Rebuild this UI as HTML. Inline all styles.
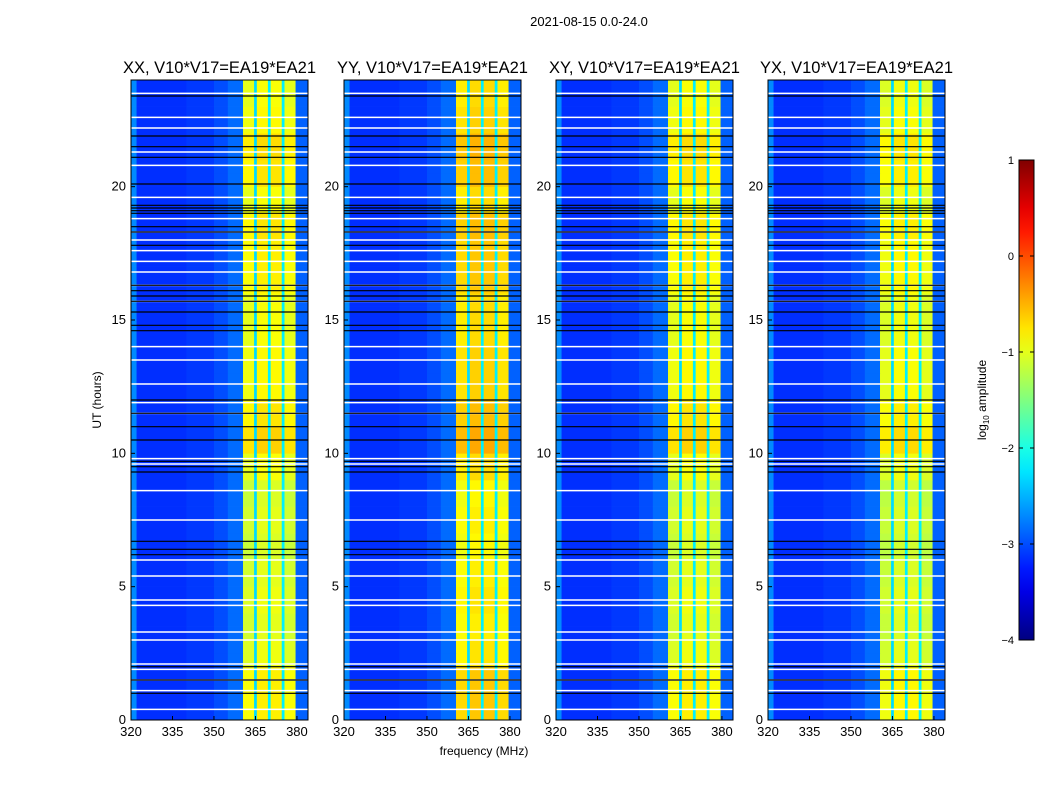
<!DOCTYPE html>
<html><head><meta charset="utf-8"><style>
body{margin:0;background:#fff;font-family:"Liberation Sans",sans-serif}
svg text{font-family:"Liberation Sans",sans-serif}
</style></head><body>
<svg id="chart" width="1050" height="800" xmlns="http://www.w3.org/2000/svg">
<rect width="1050" height="800" fill="#fff"/>
<text x="589" y="26" font-size="13" text-anchor="middle">2021-08-15 0.0-24.0</text>
<text x="484" y="755" font-size="12" text-anchor="middle">frequency (MHz)</text>
<text x="101" y="400" font-size="12" text-anchor="middle" transform="rotate(-90 101 400)">UT (hours)</text>
</svg>
<script>
const panelTitles=["XX, V10*V17=EA19*EA21","YY, V10*V17=EA19*EA21","XY, V10*V17=EA19*EA21","YX, V10*V17=EA19*EA21"];
const panelOffsets=[0,0.2,0,-0.05];
const bandStart=[320,322,340,350,355,360.5,364.5,365.5,369.5,370.5,374.5,375.5,379.5];
const bandEnd=[322,340,350,355,360.5,364.5,365.5,369.5,370.5,374.5,375.5,379.5,384];
const bandLevel=[-2.7,-3.15,-3.1,-3.0,-2.85,-1.05,-2.3,-0.95,-2.2,-0.95,-2.2,-1.05,-2.9];
const bandHot=[0,0,0,0,0,1,0,1,0,1,0,1,0];
const hourBoost=[0.15,0.15,0,-0.05,0,-0.05,-0.1,-0.05,-0.1,0.05,0.3,0.2,0.1,0.1,0.05,0.05,0.15,0.15,0.2,0.05,0.2,0.25,0.1,0.05];
const whiteLines=[23.5,22.6,22.2,21.3,20.8,19.6,18.8,18.3,18.0,17.6,17.2,16.8,16.3,15.7,14.0,13.5,12.6,11.9,11.5,9.8,9.6,8.6,7.5,6.0,5.4,4.5,4.3,3.3,3.0,2.1,1.9,1.5,1.1,0.4];
const blackLines=[23.4,21.9,21.5,21.1,20.1,19.3,19.2,19.1,19.0,18.5,18.3,17.8,16.3,16.1,15.9,15.7,15.3,14.8,14.6,12.0,11.5,11.0,10.5,9.7,9.5,9.3,6.7,6.4,6.2,2.0,1.5,1.0];
const xTicks=[320,335,350,365,380];
const yTicks=[0,5,10,15,20];
const cbTicks=[1,0,-1,-2,-3,-4];
const panelLeft=[131,344,556,768];
const PW=177,TOP=80,BOT=720,FMIN=320,FMAX=384,TMAX=24;
const NS="http://www.w3.org/2000/svg";
const svg=document.getElementById('chart');
function mk(t,a,p){const e=document.createElementNS(NS,t);for(const k in a)e.setAttribute(k,a[k]);(p||svg).appendChild(e);return e;}
function cl(v){return Math.max(0,Math.min(1,v));}
function jet(v){const t=cl((v+4)/5);const r=cl(1.5-Math.abs(4*t-3)),g=cl(1.5-Math.abs(4*t-2)),b=cl(1.5-Math.abs(4*t-1));return `rgb(${Math.round(r*255)},${Math.round(g*255)},${Math.round(b*255)})`;}
const yS=h=>BOT-(h/TMAX)*(BOT-TOP);
panelTitles.forEach((title,p)=>{
  const L=panelLeft[p];
  const xS=f=>L+(f-FMIN)/(FMAX-FMIN)*PW;
  const g=mk('g',{});
  
  
  for(let h=0;h<TMAX;h+=0.5){
    bandStart.forEach((fs,i)=>{
      const v=bandLevel[i]+panelOffsets[p]*bandHot[i]+hourBoost[Math.floor(h)]*bandHot[i];
      const r=mk('rect',{x:xS(fs),y:yS(h+0.5),width:xS(bandEnd[i])-xS(fs)+0.3,height:yS(h)-yS(h+0.5)+0.3,fill:jet(v)},g);
      
      
    });
  }
  whiteLines.forEach(h=>{const l=mk('line',{x1:L,x2:L+PW,y1:yS(h),y2:yS(h),stroke:'#fff','stroke-width':1.5},g);
    
    });
  blackLines.forEach(h=>{const l=mk('line',{x1:L,x2:L+PW,y1:yS(h),y2:yS(h),stroke:'#000','stroke-width':1.2},g);
    
    });
  const fr=mk('rect',{x:L,y:TOP,width:PW,height:BOT-TOP,fill:'none',stroke:'#000'},g);
  
  
  const tt=mk('text',{x:L+PW/2,y:73,'font-size':16.5,'text-anchor':'middle'});tt.textContent=title;
  
  
  xTicks.forEach(f=>{mk('line',{x1:xS(f),x2:xS(f),y1:BOT,y2:BOT-4,stroke:'#000'},g);
    const t=mk('text',{x:xS(f),y:BOT+16,'font-size':13,'text-anchor':'middle'});t.textContent=f;
    
    });
  yTicks.forEach(h=>{mk('line',{x1:L,x2:L+4,y1:yS(h),y2:yS(h),stroke:'#000'},g);
    const t=mk('text',{x:L-5,y:yS(h)+4,'font-size':13,'text-anchor':'end'});t.textContent=h;
    
    });
});
const CBX=1019,CBW=15,CBT=160,CBB=640;
const cS=v=>CBB-(v+4)/5*(CBB-CBT);
const defs=mk('defs',{});const gr=mk('linearGradient',{id:'jetg',x1:0,y1:1,x2:0,y2:0},defs);
for(let i=0;i<=20;i++){const v=-4+i*5/20;mk('stop',{offset:i/20,'stop-color':jet(v)},gr);}
const cb=mk('rect',{x:CBX,y:CBT,width:CBW,height:CBB-CBT,fill:'url(#jetg)',stroke:'#000'});


cbTicks.forEach(v=>{mk('line',{x1:CBX,x2:CBX+4,y1:cS(v),y2:cS(v),stroke:'#000'});mk('line',{x1:CBX+CBW-4,x2:CBX+CBW,y1:cS(v),y2:cS(v),stroke:'#000'});
  const t=mk('text',{x:CBX-5,y:cS(v)+4,'font-size':11,'text-anchor':'end'});t.textContent=(v<0?'\u2212'+(-v):v);
  
  });
const cl2=mk('text',{x:986,y:400,'font-size':12,'text-anchor':'middle',transform:'rotate(-90 986 400)'});
cl2.innerHTML='log<tspan font-size="8" dy="3">10</tspan><tspan dy="-3"> amplitude</tspan>';


</script>
</body></html>
